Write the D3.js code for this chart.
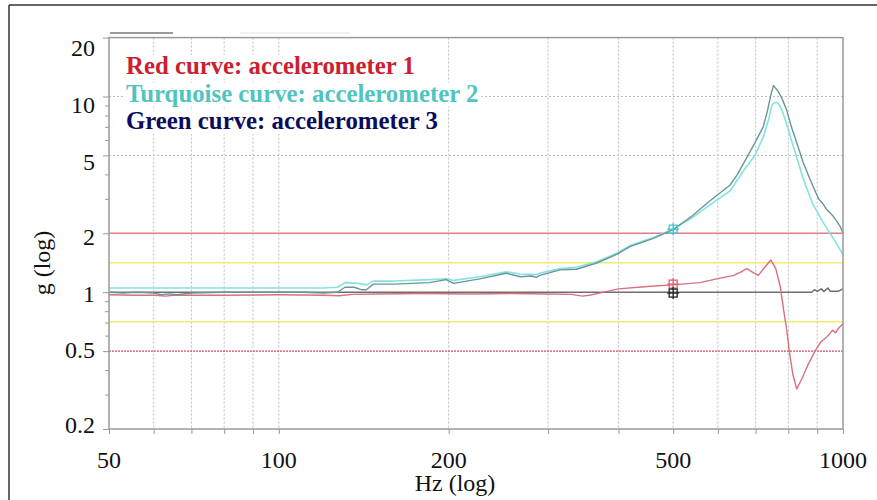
<!DOCTYPE html>
<html><head><meta charset="utf-8">
<script src="https://cdn.jsdelivr.net/npm/d3@7"></script>
<style>
body{margin:0;background:#fff}
svg{display:block}
text{font-family:"Liberation Serif","Times New Roman",serif}
</style>
</head><body>
<svg id="c" width="877" height="500"></svg>
<script>
// ---------- data ----------
const xTickLabels = [50, 100, 200, 500, 1000];
const xGridValues = [60, 70, 80, 90, 100, 200, 300, 400, 500, 600, 700, 800, 900];
const yTickLabels = [0.2, 0.5, 1, 2, 5, 10, 20];
const yMinorTicks = [0.3, 0.4, 0.6, 0.7, 0.8, 0.9, 3, 4, 6, 7, 8, 9];
const yGridValues = [5, 10];

const limitHigh = 2, limitLow = 0.5;
const warnHigh = 1.414, warnLow = 0.707;

// accelerometer 1 (red)
const acc1Freq = [50,55,60,63,65,70,80,100,120,128,135,150,180,220,260,300,330,345,355,370,400,450,500,558,597,640,660,675,690,708,725,745,760,774,788,795,803,815,828,845,865,892,915,936,950,958,970,980,1000];
const acc1Val  = [0.97,0.965,0.965,0.955,0.965,0.965,0.965,0.97,0.965,0.96,0.975,0.98,0.985,0.98,0.985,0.98,0.975,0.955,0.965,0.99,1.04,1.07,1.09,1.12,1.17,1.22,1.27,1.32,1.27,1.22,1.33,1.46,1.32,1.07,0.75,0.64,0.5,0.38,0.32,0.36,0.42,0.5,0.56,0.59,0.62,0.64,0.62,0.65,0.69];

// accelerometer 2 (turquoise)
const acc2Freq = [50,60,80,100,120,127,131,138,143,147,160,185,198,204,227,253,268,286,290,315,337,366,397,419,460,500,540,582,631,671,698,722,738,748,755,765,775,790,810,828,850,885,920,948,965,980,1000];
const acc2Val  = [1.05,1.05,1.05,1.05,1.05,1.06,1.12,1.11,1.09,1.14,1.14,1.16,1.17,1.15,1.2,1.27,1.24,1.23,1.25,1.32,1.34,1.43,1.58,1.73,1.9,2.1,2.4,2.8,3.3,4.3,5.0,6.2,7.6,9.0,9.3,9.3,8.9,7.6,6.0,4.9,3.8,2.8,2.3,2.0,1.85,1.72,1.55];

// accelerometer 3 (green)
const acc3Freq = [50,53,56,60,62,64,66,70,80,100,110,120,127,131,136,140,143,147,160,185,198,204,227,253,268,280,286,290,315,337,366,397,419,460,500,540,582,631,650,671,698,722,735,745,753,760,768,778,795,810,828,850,870,892,905,920,935,948,960,975,990,1000];
const acc3Val  = [1.0,0.99,1.0,0.99,0.97,0.98,0.97,0.99,1.0,1.0,1.0,0.99,1.0,1.06,1.06,1.03,1.03,1.1,1.1,1.12,1.16,1.11,1.17,1.25,1.2,1.21,1.19,1.22,1.3,1.31,1.41,1.56,1.71,1.88,2.09,2.45,2.94,3.53,4.0,4.72,5.8,7.0,8.5,10.2,11.4,11.0,10.6,9.9,8.5,7.0,5.8,4.6,3.9,3.3,3.0,2.85,2.65,2.55,2.45,2.3,2.15,2.0];

// reference trace at 1 g (dark grey)
const refFreq = [50,100,200,500,880,890,900,915,925,940,950,980,1000];
const refVal  = [1.0,1.0,1.0,1.0,1.0,1.03,1.01,1.04,1.01,1.05,1.01,1.01,1.04];

// cursor markers at 500 Hz
const cursorFreq = 500;
const cursorAcc2 = 2.1, cursorAcc1 = 1.1, cursorRef = 0.99;

const legendLines = ["Red curve: accelerometer 1", "Turquoise curve: accelerometer 2", "Green curve: accelerometer 3"];
const legendColors = ["#cc2030", "#50c4be", "#0c0c5c"];

// ---------- drawing ----------
const svg = d3.select("#c");
const L = 109, R = 843, T = 37.6, B = 429;
const x = d3.scaleLog().domain([50, 1000]).range([L, R]);
const y = d3.scaleLog().domain([0.2, 20]).range([B, T]);
const yLab = y.copy().range([y(0.2) - 4, y(20) + 10]);

// outer frame (top and left)
svg.append("line").attr("x1", 9).attr("x2", 877).attr("y1", 5).attr("y2", 5).attr("stroke", "#333").attr("stroke-width", 1.5);
svg.append("line").attr("x1", 9).attr("x2", 9).attr("y1", 5).attr("y2", 500).attr("stroke", "#333").attr("stroke-width", 1.5);

// small tab artefacts above plot
svg.append("line").attr("x1", 110).attr("x2", 173).attr("y1", 33).attr("y2", 33).attr("stroke", "#9a9a9a").attr("stroke-width", 2);
svg.append("line").attr("x1", 240).attr("x2", 350).attr("y1", 33).attr("y2", 33).attr("stroke", "#ececec").attr("stroke-width", 1.5);

const g = svg.append("g");
// grid
g.selectAll("line.vg").data(xGridValues).join("line").attr("class", "vg")
  .attr("x1", d => x(d)).attr("x2", d => x(d)).attr("y1", T).attr("y2", B)
  .attr("stroke", "#bdbdbd").attr("stroke-width", 1).attr("stroke-dasharray", "2,2");
g.selectAll("line.hg").data(yGridValues).join("line").attr("class", "hg")
  .attr("x1", L).attr("x2", R).attr("y1", d => y(d)).attr("y2", d => y(d))
  .attr("stroke", "#bdbdbd").attr("stroke-width", 1).attr("stroke-dasharray", "2,2");

// legend box: white background behind each text line (hides grid), text on top
const lg = svg.append("g").attr("class", "legend");
const bgLayer = lg.append("g");
const txtLayer = lg.append("g");
legendLines.forEach((t, i) => {
  const el = txtLayer.append("text")
    .attr("x", 126).attr("y", 74 + i * 27.5)
    .attr("font-size", 24.8).attr("font-weight", "bold")
    .attr("fill", legendColors[i]).text(t);
  const b = el.node().getBBox();
  bgLayer.append("rect").attr("x", b.x - 3).attr("y", b.y + 3).attr("width", b.width + 6).attr("height", b.height - 3).attr("fill", "#ffffff");
});

// limit lines
function hline(v, color, w, dash) {
  g.append("line").attr("x1", L).attr("x2", R).attr("y1", y(v)).attr("y2", y(v))
   .attr("stroke", color).attr("stroke-width", w).attr("stroke-dasharray", dash || null);
}
hline(warnHigh, "#f0ee70", 1.5);
hline(warnLow, "#f0ee70", 1.5);
hline(limitHigh, "#df7f8c", 1.5);
hline(limitLow, "#d24c5c", 1.3, "2,1");

// axes (ticks)
const xAxis = d3.axisBottom(x).tickValues([50].concat(xGridValues, [1000])).tickSize(5).tickFormat("");
const ax = g.append("g").attr("transform", `translate(0,${B})`).call(xAxis);
ax.select(".domain").remove();
ax.selectAll("line").attr("stroke", "#999");

const yAxis = d3.axisLeft(y).tickValues(yTickLabels).tickSize(6).tickFormat("");
const ay = g.append("g").attr("transform", `translate(${L},0)`).call(yAxis);
ay.select(".domain").remove();
ay.selectAll("line").attr("stroke", "#999");
const yAxisMinor = d3.axisLeft(y).tickValues(yMinorTicks).tickSize(4).tickFormat("");
const aym = g.append("g").attr("transform", `translate(${L},0)`).call(yAxisMinor);
aym.select(".domain").remove();
aym.selectAll("line").attr("stroke", "#999");

// curves
const line = d3.line().x(d => x(d[0])).y(d => y(d[1]));
function curve(fr, vals, color, w) {
  g.append("path").datum(d3.zip(fr, vals)).attr("d", line)
   .attr("fill", "none").attr("stroke", color).attr("stroke-width", w).attr("stroke-linejoin", "round");
}
curve(refFreq, refVal, "#6e6e6e", 1.5);
curve(acc1Freq, acc1Val, "#d8707e", 1.4);
curve(acc2Freq, acc2Val, "#86e2e2", 1.6);
curve(acc3Freq, acc3Val, "#6a9696", 1.4);

// plot frame
g.append("rect").attr("x", L).attr("y", T).attr("width", R - L).attr("height", B - T)
  .attr("fill", "none").attr("stroke", "#9a9a9a").attr("stroke-width", 1.5);

// cursor markers
function marker(v, color) {
  const cx = x(cursorFreq), cy = y(v);
  const m = g.append("g").attr("stroke", color).attr("stroke-width", 1.3).attr("fill", "none");
  m.append("rect").attr("x", cx - 4).attr("y", cy - 4).attr("width", 8).attr("height", 8);
  m.append("line").attr("x1", cx - 6).attr("x2", cx + 6).attr("y1", cy).attr("y2", cy);
  m.append("line").attr("x1", cx).attr("x2", cx).attr("y1", cy - 6).attr("y2", cy + 6);
}
marker(cursorAcc2, "#40c8d0");
marker(cursorAcc1, "#e06070");
marker(cursorRef, "#222");

// legend must sit above grid
lg.raise();

// tick labels
svg.selectAll("text.xl").data(xTickLabels).join("text").attr("class", "xl")
  .attr("x", d => x(d)).attr("y", 468).attr("text-anchor", "middle")
  .attr("font-size", 24).attr("fill", "#111").text(d => d);
svg.selectAll("text.yl").data(yTickLabels).join("text").attr("class", "yl")
  .attr("x", 95).attr("y", d => yLab(d)).attr("dy", "0.35em").attr("text-anchor", "end")
  .attr("font-size", 24).attr("fill", "#111").text(d => d);

// axis titles
svg.append("text").attr("x", 455).attr("y", 491).attr("text-anchor", "middle")
  .attr("font-size", 24).attr("fill", "#111").text("Hz (log)");
svg.append("text").attr("transform", "translate(50,263) rotate(-90)").attr("text-anchor", "middle")
  .attr("font-size", 24).attr("fill", "#111").text("g (log)");
</script>
</body></html>
